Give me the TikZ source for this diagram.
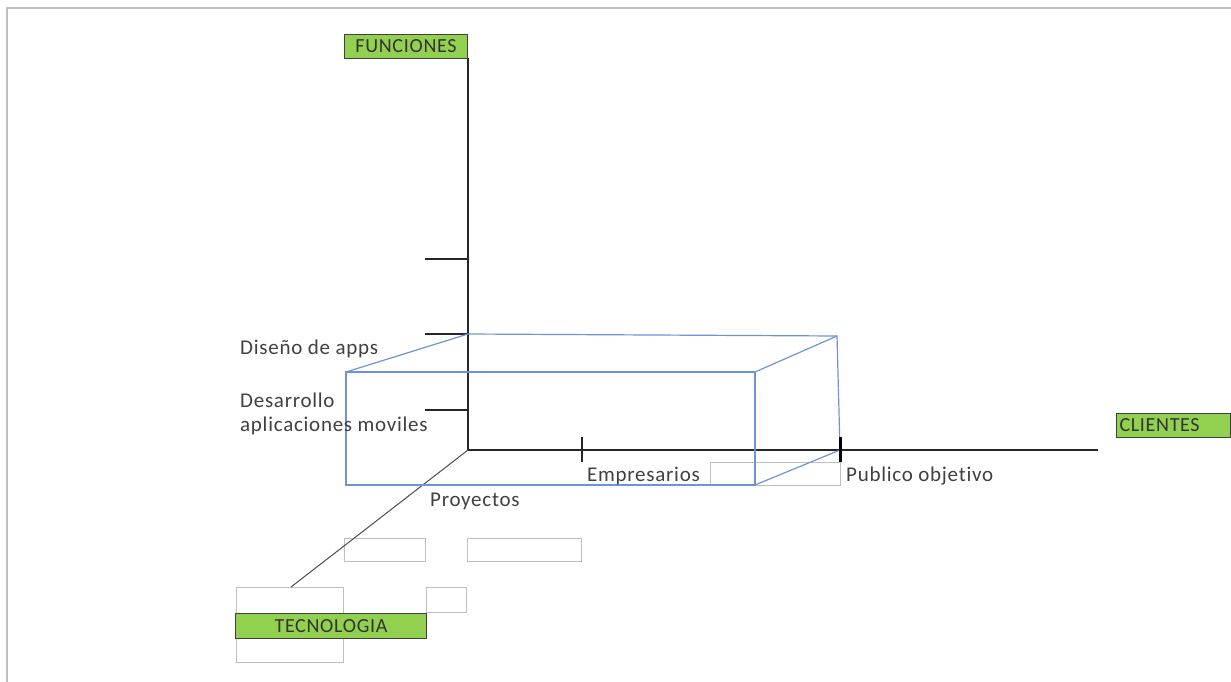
\documentclass[tikz,border=0pt]{standalone}
\usepackage{fontspec}
\setmainfont[LetterSpace=3.5,Ligatures=NoCommon]{Carlito}
\begin{document}
\begin{tikzpicture}[x=1pt,y=-1pt,
  axis/.style={draw=black!85,line width=1.1pt},
  tick/.style={draw=black!85,line width=1.1pt},
  lbl/.style={font=\fontsize{21}{25}\selectfont,text=black!75,anchor=west,inner sep=0pt},
  tag/.style={draw=black!75,line width=1pt,fill=tagg,font=\fontsize{20}{24}\selectfont,text=black!80,inner sep=0pt,anchor=north west},
  empty/.style={draw=black!25,line width=0.8pt},
  cubeline/.style={draw=cubec,line width=1.2pt}]
\definecolor{tagg}{HTML}{92D050}
\definecolor{cubec}{HTML}{6E93D8}
\useasboundingbox (0,0) rectangle (1231,682);
% frame
\draw[black!25,line width=1.2pt] (7,682) -- (7,8) -- (1231,8);
% empty boxes
\draw[empty] (344,538) rectangle (425,561);
\draw[empty] (467,538) rectangle (581,561);
\draw[empty] (236,587) rectangle (343,613);
\draw[empty] (426,587) rectangle (466,612);
\draw[empty] (236,638) rectangle (343,662);
\draw[empty] (710,462) rectangle (840,485);
% axes
\coordinate (O) at (468,450);
\coordinate (Ytop) at (468,58);
\coordinate (Xend) at (1098,450);
\coordinate (Zend) at (291,587);
\draw[axis] (O) -- (Ytop);
\draw[axis] (O) -- (Xend);
\draw[draw=black!70,line width=1pt] (O) -- (Zend);
% ticks
\foreach \yy/\n in {259/a,334/b,410/c}{
  \coordinate (ty\n) at (425,\yy);
  \draw[tick] (ty\n) -- (468,\yy);
}
\draw[tick] (582,437) -- (582,462);
% cube
\coordinate (B1) at (468,334);
\coordinate (B2) at (837,336);
\coordinate (B3) at (840,450);
\coordinate (F1) at (346,372);
\coordinate (F2) at (755,372);
\coordinate (F3) at (755,485);
\coordinate (F4) at (346,485);
\draw[cubeline] (F1) -- (F2) -- (F3) -- (F4) -- cycle;
\draw[cubeline] (F1) -- (B1) -- (B2) -- (B3) -- (F3);
\draw[cubeline] (F2) -- (B2);
\draw[draw=black,line width=3pt] (840,437) -- (840,462);
% tags
\node[tag,minimum width=123pt,minimum height=24pt] (fun) at (344,34) {FUNCIONES};
\node[tag,minimum width=114pt,minimum height=24pt,text width=110pt,align=left] (cli) at (1116,413) {\hspace*{1pt}CLIENTES};
\node[tag,minimum width=191pt,minimum height=25pt] (tec) at (235,613) {TECNOLOGIA};
% labels
\node[lbl] (dis) at (240,349) {Diseño de apps};
\node[lbl] (des) at (240,400) {Desarrollo};
\node[lbl] (apl) at (240,426) {aplicaciones moviles};
\node[lbl] (pro) at (430,501) {Proyectos};
\node[lbl] (emp) at (587,476) {Empresarios};
\node[lbl] (pub) at (846,476) {Publico objetivo};
\end{tikzpicture}
\end{document}
